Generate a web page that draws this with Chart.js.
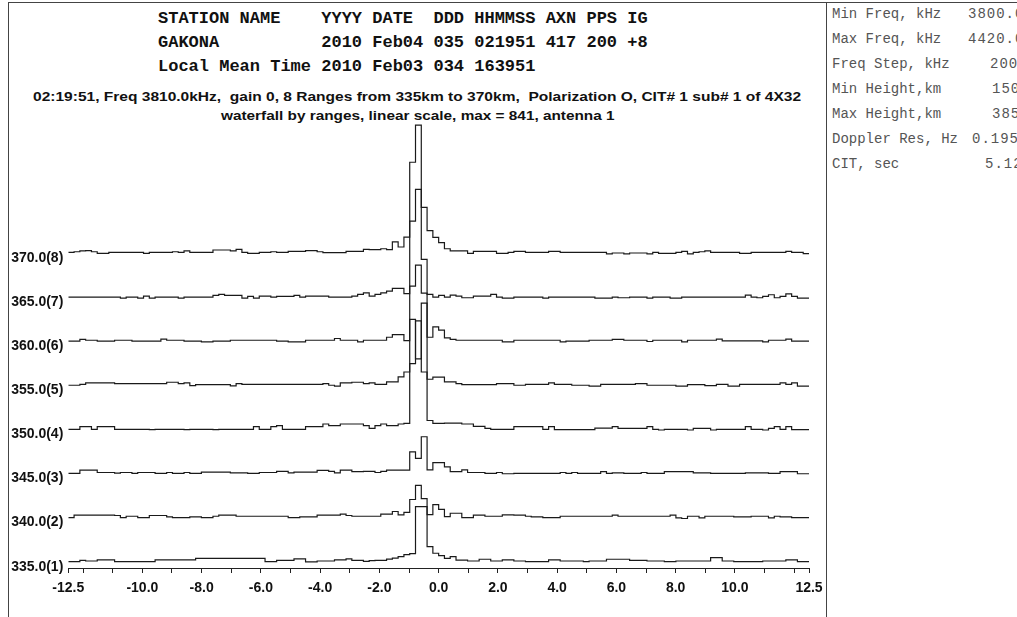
<!DOCTYPE html>
<html>
<head>
<meta charset="utf-8">
<script src="https://cdn.jsdelivr.net/npm/chart.js@4.4.1/dist/chart.umd.min.js"></script>
<style>
  html, body { margin: 0; padding: 0; background: #fff; }
  body { width: 1017px; height: 617px; position: relative; overflow: hidden; }
  .line { position: absolute; background: #444; }
  .hdr { position: absolute; left: 158px; font: bold 17px "Courier New", "Liberation Mono", monospace; line-height: 20px; white-space: pre; color: #111; }
  .sub { position: absolute; font: bold 13px Arial, "Liberation Sans", sans-serif; line-height: 16px; white-space: pre; color: #111; transform-origin: 0 0; }
  .par { position: absolute; font: 14px "Courier New", "Liberation Mono", monospace; line-height: 16px; white-space: pre; color: #555; }
  .val { letter-spacing: 1px; }
  #chart { position: absolute; left: 9px; top: 0; }
</style>
</head>
<body>
<div class="line" style="left:8px;top:2px;width:1px;height:615px"></div>
<div class="line" style="left:8px;top:2px;width:1009px;height:1px"></div>
<div class="line" style="left:826px;top:2px;width:1px;height:615px"></div>

<div class="hdr" style="top:9px">STATION NAME    YYYY DATE  DDD HHMMSS AXN PPS IG</div>
<div class="hdr" style="top:33px">GAKONA          2010 Feb04 035 021951 417 200 +8</div>
<div class="hdr" style="top:57px">Local Mean Time 2010 Feb03 034 163951</div>

<div class="sub" id="sub1" style="top:89px">02:19:51, Freq 3810.0kHz,  gain 0, 8 Ranges from 335km to 370km,  Polarization O, CIT# 1 sub# 1 of 4X32</div>
<div class="sub" id="sub2" style="top:108px">waterfall by ranges, linear scale, max = 841, antenna 1</div>

<div id="params"></div>

<canvas id="chart" width="817" height="617"></canvas>

<script>
// ranges (km) and their labels
const rangeKm = [335, 340, 345, 350, 355, 360, 365, 370];
const rangeLabels = ['335.0(1)', '340.0(2)', '345.0(3)', '350.0(4)', '355.0(5)', '360.0(6)', '365.0(7)', '370.0(8)'];

// doppler axis, Hz
const dopplerMin = -12.5;
const dopplerMax = 12.5;
const dopplerBins = 128;
const dopplerTicks = [-12.5, -12, -11, -10, -9, -8, -7, -6, -5, -4, -3, -2, -1, 0,
  1, 2, 3, 4, 5, 6, 7, 8, 9, 10, 11, 12, 12.5];
const dopplerLabelled = [-12.5, -10, -8, -6, -4, -2, 0, 2, 4, 6, 8, 10, 12.5];

// right panel
const paramNames = ['Min Freq, kHz', 'Max Freq, kHz', 'Freq Step, kHz', 'Min Height,km', 'Max Height,km', 'Doppler Res, Hz', 'CIT, sec'];
const paramValues = ['3800.0', '4420.0', '200', '150', '385', '0.195', '5.12'];

// amplitudes per doppler bin, linear scale (max = 841)
const ampR1 = [
  32,32,40,36,36,43,43,43,32,32,32,32,32,32,32,43,
  43,43,43,43,43,43,53,53,53,53,53,53,53,53,53,53,
  53,53,32,32,40,40,40,49,49,30,30,36,36,36,43,43,
  49,40,40,34,38,40,40,48,54,64,76,83,380,380,127,85,
  70,53,64,42,42,36,36,47,47,36,36,43,43,36,36,32,
  32,32,32,43,43,36,36,36,36,32,36,36,36,47,47,47,
  47,40,40,40,36,36,36,32,32,36,36,36,36,36,36,57,
  57,36,36,32,32,32,32,32,36,36,36,36,43,43,32,32];
const ampR2 = [
  32,47,47,47,47,47,47,47,45,32,40,40,32,32,45,45,
  45,36,32,32,32,36,36,32,32,40,47,47,47,40,40,40,
  40,40,40,40,40,40,32,32,36,36,36,47,47,47,47,53,
  45,40,40,40,40,40,53,53,70,49,64,146,235,152,51,114,
  83,38,59,59,32,32,47,47,40,40,40,49,49,47,47,40,
  36,36,32,32,32,40,40,40,40,40,40,40,40,40,47,40,
  40,40,40,40,40,40,40,40,47,30,26,40,40,30,40,40,
  40,40,40,36,36,36,40,40,40,30,40,36,36,32,32,32];
const ampR3 = [
  32,32,53,53,53,38,38,38,34,38,38,32,38,38,38,32,
  32,38,32,32,38,32,32,40,40,40,40,40,36,36,36,32,
  32,38,38,38,45,45,36,40,40,40,40,51,51,45,36,53,
  53,43,43,45,45,38,45,53,53,53,53,169,127,264,54,100,
  100,74,43,43,54,38,38,38,32,32,38,30,30,32,32,32,
  32,32,32,32,32,38,32,38,32,32,32,32,43,32,36,36,
  32,32,32,38,32,32,32,43,43,43,43,43,36,36,36,32,
  32,32,32,32,32,36,36,36,36,32,32,43,43,43,30,30];
const ampR4 = [
  32,32,49,49,32,49,49,49,32,32,32,32,32,32,30,32,
  32,32,32,32,30,32,32,32,32,30,32,32,32,32,32,32,
  49,32,32,49,55,32,32,32,32,49,49,49,66,55,55,66,
  66,66,66,55,38,55,66,55,55,66,70,728,478,830,88,70,
  70,72,72,72,66,66,51,51,38,32,32,32,32,49,49,49,
  49,49,32,49,30,30,30,30,30,30,30,40,40,40,49,38,
  38,38,38,38,49,32,28,32,32,32,32,28,38,38,38,28,
  32,32,32,32,32,49,32,32,28,38,49,32,49,30,30,30];
const ampR5 = [
  32,32,38,47,47,47,47,47,43,43,43,43,43,43,43,43,
  43,51,51,43,47,30,36,36,36,36,36,36,28,43,38,38,
  38,38,38,38,38,38,38,38,38,38,38,38,43,32,26,47,
  47,51,51,43,47,38,38,53,53,85,116,169,439,116,70,83,
  83,53,53,43,36,36,36,36,36,36,43,43,43,32,32,38,
  38,38,38,47,38,38,38,32,32,32,26,26,38,38,38,38,
  38,38,43,43,32,32,32,32,32,26,26,36,36,36,30,30,
  38,38,26,26,38,38,38,38,38,38,38,47,38,47,26,26];
const ampR6 = [
  32,32,43,38,38,32,32,32,38,38,38,32,32,32,32,32,
  45,38,38,38,32,32,32,28,28,32,32,32,38,38,38,38,
  38,38,38,38,32,32,28,28,28,38,38,38,38,38,49,38,
  38,38,28,38,38,38,38,57,74,74,36,380,513,336,57,123,
  102,53,43,38,38,38,38,38,38,38,38,28,28,38,38,38,
  38,38,38,38,38,28,32,32,32,32,38,38,38,38,43,43,
  38,38,38,38,30,38,38,38,38,38,28,38,38,38,38,38,
  45,34,34,34,34,34,34,34,28,38,38,38,45,32,32,32];
const ampR7 = [
  32,32,32,32,32,32,32,32,32,26,32,32,26,38,26,32,
  32,32,32,26,32,32,32,32,32,43,49,43,43,43,26,36,
  26,38,38,32,36,36,36,43,32,38,38,38,38,32,32,32,
  32,38,49,59,38,49,59,70,87,87,54,513,714,271,49,32,
  43,32,45,38,28,28,38,38,38,49,32,26,26,32,32,32,
  32,32,26,32,32,32,32,32,32,32,32,26,26,26,32,28,
  28,32,32,32,26,32,32,32,26,26,32,32,32,32,32,32,
  32,32,32,32,32,45,32,28,36,47,28,36,53,36,26,26];
const ampR8 = [
  36,40,45,47,40,30,30,36,36,36,36,36,36,30,36,36,
  36,36,40,36,45,36,36,36,36,51,51,51,45,55,36,30,
  30,36,36,40,36,36,43,43,43,47,47,40,34,34,34,34,
  43,43,43,55,53,53,59,53,102,70,133,606,841,321,173,131,
  98,59,45,45,45,30,43,43,43,43,30,30,36,43,43,36,
  36,36,36,43,43,36,36,36,36,36,36,36,36,26,32,32,
  26,32,32,32,26,36,30,30,30,36,43,26,36,40,45,36,
  36,36,36,36,30,30,36,36,36,36,36,36,43,36,36,28];

const ampByRange = [ampR1, ampR2, ampR3, ampR4, ampR5, ampR6, ampR7, ampR8];

// waterfall: km of offset per amplitude count
const kmPerCount = 15.08 / 841;

// right panel text
const params = document.getElementById('params');
const valueX = [968, 968, 990, 992, 992, 972, 985];
paramNames.forEach((name, i) => {
  const top = 5.5 + 25 * i;
  const a = document.createElement('div');
  a.className = 'par';
  a.style.left = '832px';
  a.style.top = top + 'px';
  a.textContent = name;
  params.appendChild(a);
  const b = document.createElement('div');
  b.className = 'par val';
  b.style.left = valueX[i] + 'px';
  b.style.top = top + 'px';
  b.textContent = paramValues[i];
  params.appendChild(b);
});

// squeeze the subtitle lines to the width they have in the plot
function fitSub(id, left, width) {
  const el = document.getElementById(id);
  const w = el.offsetWidth;
  el.style.left = left + 'px';
  el.style.transform = 'scaleX(' + (width / w) + ')';
}
fitSub('sub1', 33, 768);
fitSub('sub2', 221, 393);

// bin edges along doppler
const binWidth = (dopplerMax - dopplerMin) / dopplerBins;
const binEdges = [];
for (let i = 0; i <= dopplerBins; i++) binEdges.push(dopplerMin + i * binWidth);

const datasets = ampByRange.map((amp, k) => ({
  label: rangeLabels[k],
  data: binEdges.map((x, i) => ({ x: x, y: rangeKm[k] + amp[Math.min(i, amp.length - 1)] * kmPerCount })),
  stepped: 'before',
  borderColor: '#1a1a1a',
  borderWidth: 1.2,
  pointRadius: 0,
  fill: false
}));

new Chart(document.getElementById('chart'), {
  type: 'line',
  data: { datasets: datasets },
  options: {
    responsive: false,
    animation: false,
    events: [],
    layout: { padding: { top: 117, right: 17, left: 0, bottom: 0 } },
    plugins: { legend: { display: false }, tooltip: { enabled: false } },
    scales: {
      x: {
        type: 'linear',
        min: dopplerMin,
        max: dopplerMax,
        afterBuildTicks: (scale) => { scale.ticks = dopplerTicks.map(v => ({ value: v })); },
        afterFit: (scale) => { scale.height = 49; scale.paddingLeft = 0; scale.paddingRight = 0; },
        border: { display: true, color: '#222', width: 1 },
        grid: { drawOnChartArea: false, drawTicks: true, tickLength: 5, color: '#222' },
        ticks: {
          autoSkip: false,
          maxRotation: 0,
          padding: 7,
          color: '#111',
          font: { family: 'Arial, "Liberation Sans", sans-serif', size: 14, weight: 'bold' },
          callback: (v) => dopplerLabelled.includes(v) ? v.toFixed(1) : ''
        }
      },
      y: {
        type: 'linear',
        min: 334.85,
        max: 386,
        afterBuildTicks: (scale) => { scale.ticks = rangeKm.map(v => ({ value: v })); },
        afterFit: (scale) => { scale.width = 59.3; },
        border: { display: false },
        grid: { display: false, drawTicks: false },
        ticks: {
          padding: 5,
          color: '#111',
          font: { family: 'Arial, "Liberation Sans", sans-serif', size: 14, weight: 'bold' },
          callback: (v, i) => rangeLabels[i]
        }
      }
    }
  }
});
</script>
</body>
</html>
